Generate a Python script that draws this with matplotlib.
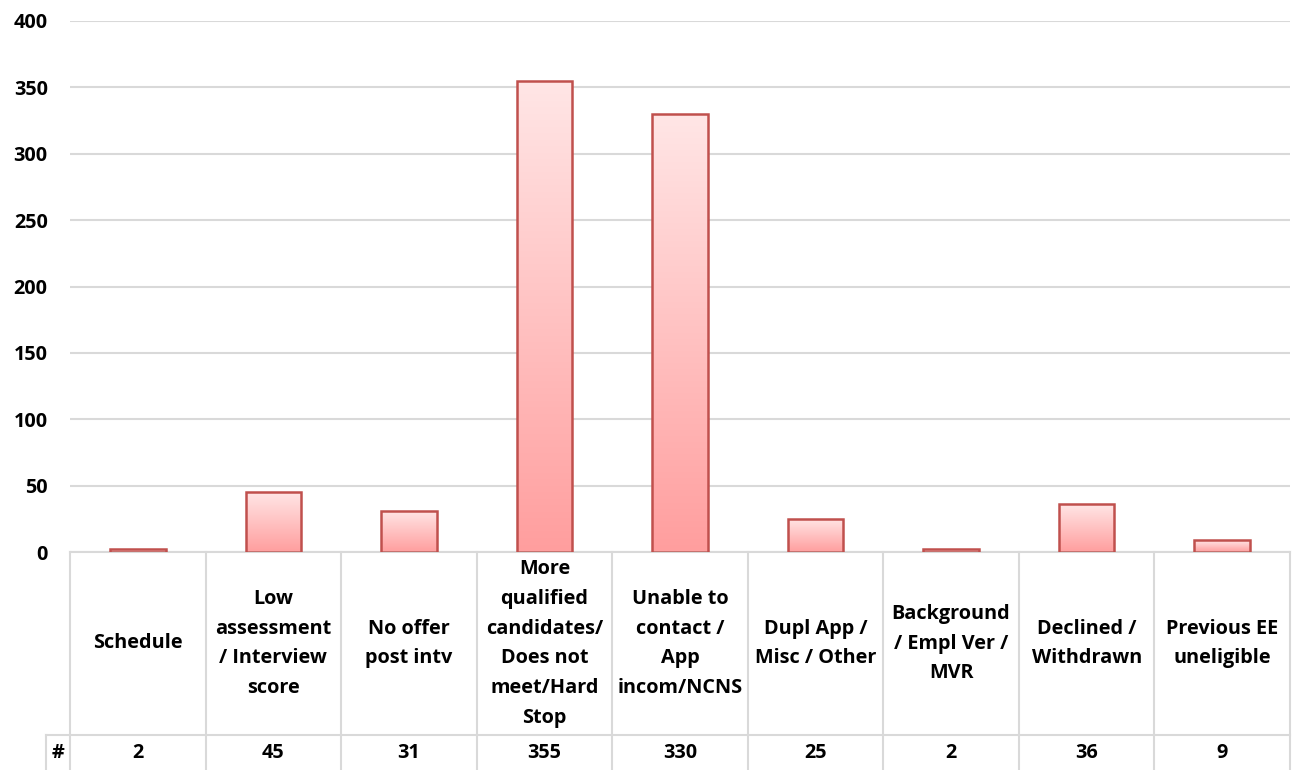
import numpy as np
import matplotlib.pyplot as plt
from matplotlib.colors import LinearSegmentedColormap
from matplotlib.transforms import blended_transform_factory

reasons = [
    "Schedule",
    "Low\nassessment\n/ Interview\nscore",
    "No offer\npost intv",
    "More\nqualified\ncandidates/\nDoes not\nmeet/Hard\nStop",
    "Unable to\ncontact /\nApp\nincom/NCNS",
    "Dupl App /\nMisc / Other",
    "Background\n/ Empl Ver /\nMVR",
    "Declined /\nWithdrawn",
    "Previous EE\nuneligible",
]
counts = [2, 45, 31, 355, 330, 25, 2, 36, 9]
y_ticks = [0, 50, 100, 150, 200, 250, 300, 350, 400]

plt.rcParams['font.family'] = ['Open Sans', 'DejaVu Sans']
plt.rcParams['font.weight'] = 'bold'
fs = 14.3

W, H = 1296, 770
fig = plt.figure(figsize=(W / 100, H / 100), dpi=100)
left, right, top, bottom = 70, 1290, 21, 552
ax = fig.add_axes([left / W, 1 - bottom / H, (right - left) / W, (bottom - top) / H])

grid_col = '#d9d9d9'
edge_col = '#c0504d'
bar_cmap = LinearSegmentedColormap.from_list('pinkfade', ['#ff9e9e', '#ffe6e6'])
grad = np.linspace(0, 1, 256).reshape(-1, 1)

xs = np.arange(len(counts))
w = 0.41
for x, v in zip(xs, counts):
    bar = ax.bar(x, v, width=w, facecolor='none', edgecolor=edge_col,
                 linewidth=1.8, zorder=3)[0]
    img = ax.imshow(grad, extent=[x - w / 2, x + w / 2, 0, v], origin='lower',
                    aspect='auto', cmap=bar_cmap, zorder=2, interpolation='bilinear')
    img.set_clip_path(bar)

ax.set_xlim(-0.5, len(counts) - 0.5)
ax.set_ylim(0, 400)
ax.set_yticks(y_ticks)
ax.set_yticklabels([str(t) for t in y_ticks], fontsize=fs, fontweight='bold')
ax.tick_params(axis='y', length=0, pad=16)
ax.set_xticks([])
ax.yaxis.grid(True, color=grid_col, linewidth=1.5)
ax.set_axisbelow(True)
for s in ax.spines.values():
    s.set_visible(False)

# data table under the plot
trans = blended_transform_factory(ax.transData, ax.transAxes)
ph = bottom - top
def yax(py):
    return (bottom - py) / ph

y_top = yax(552)
y_mid = yax(735)
y_bot = yax(772)
hash_x = -0.5 - (left - 46) / ((right - left) / len(counts))

line_kw = dict(color=grid_col, linewidth=1.5, transform=trans, clip_on=False)
ax.plot([-0.5, len(counts) - 0.5], [y_top, y_top], **line_kw)
ax.plot([hash_x, len(counts) - 0.5], [y_mid, y_mid], **line_kw)
ax.plot([hash_x, hash_x], [y_mid, y_bot], **line_kw)
for i in range(len(counts) + 1):
    ax.plot([i - 0.5, i - 0.5], [y_top, y_bot], **line_kw)

for x, name, v in zip(xs, reasons, counts):
    ax.text(x, (y_top + y_mid) / 2, name, transform=trans, ha='center', va='center',
            fontsize=fs, fontweight='bold', linespacing=1.65)
    ax.text(x, (y_mid + y_bot) / 2, str(v), transform=trans, ha='center', va='center',
            fontsize=fs, fontweight='bold')
ax.text((hash_x - 0.5) / 2, (y_mid + y_bot) / 2, '#', transform=trans,
        ha='center', va='center', fontsize=fs, fontweight='bold')

fig.savefig('out.png', dpi=100)
